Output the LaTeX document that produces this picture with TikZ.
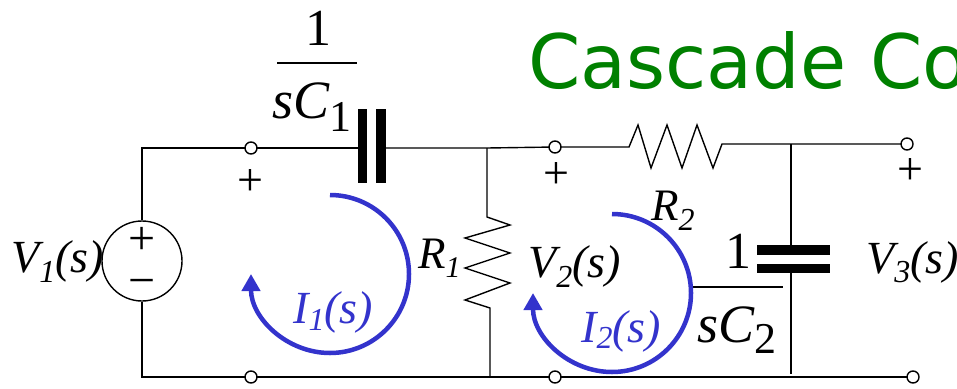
\documentclass[tikz,border=0pt]{standalone}
\usepackage{fontspec}
\setmainfont{Liberation Serif}
\newfontfamily\titlefont{DejaVu Sans}
\usetikzlibrary{arrows.meta}
\definecolor{loopblue}{RGB}{51,51,204}
\definecolor{titlegreen}{RGB}{0,128,0}
\newcommand\fsz[1]{\fontsize{#1}{#1}\selectfont}
\begin{document}
\begin{tikzpicture}[x=1pt,y=-1pt,
  wire/.style={line width=1.4pt},
  term/.style={circle,draw,fill=white,line width=1.4pt,minimum size=12pt,inner sep=0pt},
  lbl/.style={inner sep=0pt,anchor=base west},
  ctr/.style={inner sep=0pt,anchor=center},
  loopar/.style={draw=loopblue,line width=4.5pt,-{Triangle[length=17pt,width=18pt]}},
]
\useasboundingbox (0,0) rectangle (957,388);
\clip (0,0) rectangle (957,388);
% title
\node[lbl,text=titlegreen] (title) at (528,88) {\titlefont\fsz{75}Cascade Co};
% coordinates
\coordinate (TL) at (142,148);
\coordinate (BL) at (142,377);
\coordinate (N1) at (487,148);
\coordinate (N1b) at (490,377);
\coordinate (N2) at (791,144);
\coordinate (N2b) at (791,374);
\coordinate (C1a) at (358,148);
\coordinate (C1b) at (386,148);
\coordinate (C2a) at (791,245);
\coordinate (C2b) at (791,273);
% source
\node[circle,draw,line width=1.4pt,minimum size=80pt,inner sep=0pt] (src) at (142,261) {};
\node[ctr] (srcp) at (142,241) {\fsz{48}+};
\node[ctr] (srcm) at (142,288) {\fsz{48}−};
% wires
\draw[wire] (src.north) -- (TL) -- (C1a);
\draw[wire] (src.south) -- (BL) -- (913,377);
\draw[wire] (C1b) -- (N1) -- (555,147) -- (629,147) -- (638,125) -- (651,168) -- (667,125)
  -- (682,168) -- (697,125) -- (713,168) -- (722,144) -- (907,144);
\draw[wire] (N1) -- (487,217) -- (510,225) -- (465,238) -- (510,253) -- (465,268)
  -- (510,283) -- (465,300) -- (490,308) -- (N1b);
\draw[wire] (N2) -- (C2a);
\draw[wire] (C2b) -- (N2b);
% capacitor plates
\fill (358,109) rectangle (367,183);
\fill (376,109) rectangle (386,183);
\fill (757,245) rectangle (830,255);
\fill (757,264) rectangle (830,273);
% terminals
\node[term] (T1) at (251,148) {};
\node[term] (T2) at (555,147) {};
\node[term] (T3) at (907,144) {};
\node[term] (B1) at (251,377) {};
\node[term] (B2) at (555,377) {};
\node[term] (B3) at (913,377) {};
% plus signs
\node[ctr] (p1) at (250,183) {\fsz{46}+};
\node[ctr] (p2) at (556,176) {\fsz{46}+};
\node[ctr] (p3) at (910,172) {\fsz{46}+};
% fraction 1/sC1
\node[inner sep=0pt,anchor=base] (f1n) at (318,45) {\fsz{52}1};
\draw[line width=1.3pt] (277,63) -- (357,63);
\node[lbl] (f1d) at (272,118) {\fsz{54}\itshape sC\raisebox{-13pt}{\upshape\fsz{44}1}};
% fraction 1/sC2
\node[inner sep=0pt,anchor=base] (f2n) at (738,268) {\fsz{52}1};
\draw[line width=1.3pt] (693,287) -- (783,287);
\node[lbl] (f2d) at (697,342) {\fsz{54}\itshape sC\raisebox{-11pt}{\upshape\fsz{44}2}};
% labels
\node[lbl] (v1) at (11,272) {\fsz{46}\itshape V\raisebox{-10pt}{\fsz{32}1}(s)};
\node[lbl] (r1) at (418,268) {\fsz{45}\itshape R\raisebox{-9pt}{\fsz{30}1}};
\node[lbl] (v2) at (528,277) {\fsz{46}\itshape V\raisebox{-10pt}{\fsz{32}2}(s)};
\node[lbl] (r2) at (651,220) {\fsz{45}\itshape R\raisebox{-10pt}{\fsz{32}2}};
\node[lbl] (v3) at (866,273) {\fsz{46}\itshape V\raisebox{-9pt}{\fsz{32}3}(s)};
% loop currents
\draw[loopar] (330,195) arc[start angle=-90,end angle=180,radius=79];
\node[lbl,text=loopblue] (i1) at (293,323) {\fsz{46}\itshape I\raisebox{-7pt}{\fsz{32}1}(s)};
\draw[loopar] (612,214) arc[start angle=-90,end angle=180,radius=79];
\node[lbl,text=loopblue] (i2) at (581,342) {\fsz{46}\itshape I\raisebox{-6pt}{\fsz{32}2}(s)};
\end{tikzpicture}
\end{document}
